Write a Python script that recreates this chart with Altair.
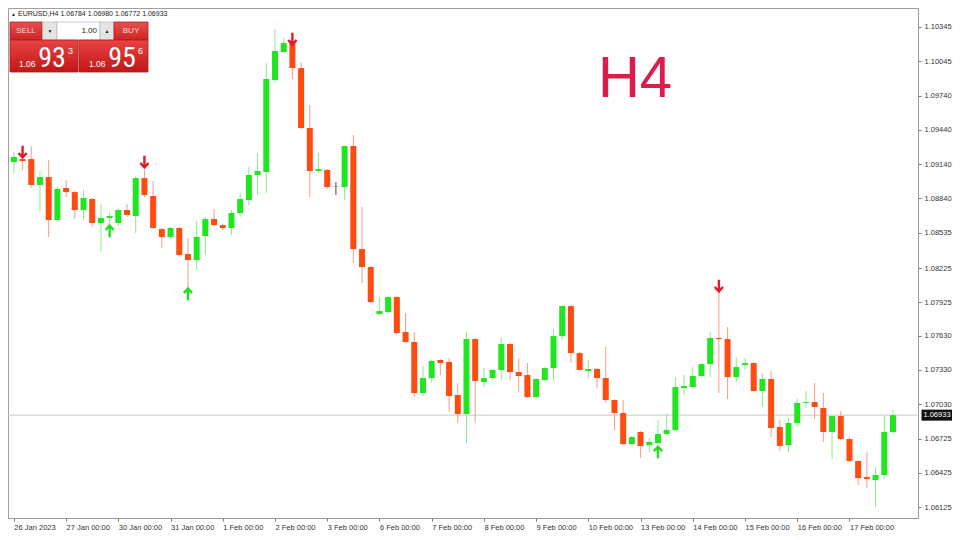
import altair as alt
import pandas as pd

# ---------------- data ----------------
opens = [1.09158, 1.09184, 1.09184, 1.08956, 1.09026, 1.08648, 1.08930, 1.08894, 1.08736, 1.08833,
         1.08622, 1.08666, 1.08622, 1.08736, 1.08683, 1.09017, 1.08859, 1.08569, 1.08499, 1.08578,
         1.08349, 1.08297, 1.08508, 1.08657, 1.08604, 1.08578, 1.08710, 1.08824, 1.09044, 1.09070,
         1.09879, 1.10125, 1.10213, 1.09984, 1.09457, 1.09079, 1.09088, 1.08947, 1.08938, 1.09299,
         1.08393, 1.08235, 1.07822, 1.07840, 1.07971, 1.07664, 1.07576, 1.07128, 1.07259, 1.07418,
         1.07400, 1.07110, 1.06943, 1.07602, 1.07224, 1.07259, 1.07330, 1.07558, 1.07312, 1.07286,
         1.07092, 1.07242, 1.07347, 1.07628, 1.07892, 1.07479, 1.07321, 1.07339, 1.07259, 1.07066,
         1.06952, 1.06679, 1.06785, 1.06670, 1.06688, 1.06767, 1.06802, 1.07171, 1.07180, 1.07277,
         1.07382, 1.07611, 1.07602, 1.07268, 1.07374, 1.07391, 1.07145, 1.07251, 1.06829, 1.06670,
         1.06864, 1.07040, 1.07048, 1.06996, 1.06785, 1.06925, 1.06723, 1.06530, 1.06389, 1.06363,
         1.06407, 1.06784]
highs = [1.09246, 1.09202, 1.09299, 1.09079, 1.09176, 1.08938, 1.09000, 1.08903, 1.08912, 1.08842,
         1.08789, 1.08719, 1.08754, 1.08789, 1.09035, 1.09088, 1.08991, 1.08578, 1.08587, 1.08587,
         1.08490, 1.08639, 1.08675, 1.08745, 1.08613, 1.08736, 1.08886, 1.09114, 1.09237, 1.10028,
         1.10327, 1.10248, 1.10292, 1.10037, 1.09659, 1.09237, 1.09097, 1.08982, 1.09305, 1.09395,
         1.08763, 1.08244, 1.07971, 1.07980, 1.07980, 1.07831, 1.07664, 1.07365, 1.07418, 1.07427,
         1.07435, 1.07215, 1.07664, 1.07611, 1.07347, 1.07339, 1.07611, 1.07567, 1.07435, 1.07391,
         1.07259, 1.07356, 1.07690, 1.07898, 1.07901, 1.07488, 1.07418, 1.07347, 1.07532, 1.07075,
         1.07066, 1.06750, 1.06794, 1.06732, 1.06890, 1.06952, 1.07268, 1.07286, 1.07356, 1.07391,
         1.07664, 1.08033, 1.07708, 1.07444, 1.07435, 1.07400, 1.07303, 1.07321, 1.06890, 1.06908,
         1.07075, 1.07145, 1.07215, 1.07128, 1.06930, 1.06969, 1.06741, 1.06535, 1.06609, 1.06477,
         1.06925, 1.06980]
lows = [1.09061, 1.09088, 1.08930, 1.08727, 1.08499, 1.08631, 1.08850, 1.08657, 1.08657, 1.08587,
        1.08367, 1.08604, 1.08596, 1.08675, 1.08534, 1.08850, 1.08569, 1.08402, 1.08481, 1.08332,
        1.08033, 1.08209, 1.08341, 1.08596, 1.08560, 1.08516, 1.08675, 1.08780, 1.08868, 1.08886,
        1.09852, 1.10120, 1.09888, 1.09448, 1.08850, 1.09061, 1.08921, 1.08868, 1.08824, 1.08270,
        1.08094, 1.07919, 1.07813, 1.07831, 1.07646, 1.07567, 1.07092, 1.07101, 1.07215, 1.07286,
        1.06961, 1.06864, 1.06688, 1.06873, 1.07180, 1.07242, 1.07242, 1.07242, 1.07136, 1.07084,
        1.07084, 1.07233, 1.07233, 1.07593, 1.07391, 1.07321, 1.07259, 1.07171, 1.07040, 1.06802,
        1.06670, 1.06670, 1.06556, 1.06609, 1.06679, 1.06758, 1.06794, 1.07110, 1.07171, 1.07268,
        1.07268, 1.07128, 1.07075, 1.07224, 1.07330, 1.07136, 1.07005, 1.06741, 1.06618, 1.06609,
        1.06829, 1.06996, 1.06899, 1.06697, 1.06547, 1.06714, 1.06521, 1.06319, 1.06292, 1.06126,
        1.06372, 1.06772]
closes = [1.09202, 1.09167, 1.08956, 1.09026, 1.08648, 1.08921, 1.08894, 1.08736, 1.08842, 1.08622,
          1.08666, 1.08683, 1.08736, 1.08692, 1.09017, 1.08868, 1.08578, 1.08499, 1.08578, 1.08341,
          1.08297, 1.08499, 1.08657, 1.08604, 1.08578, 1.08710, 1.08833, 1.09044, 1.09079, 1.09888,
          1.10134, 1.10204, 1.09984, 1.09457, 1.09079, 1.09097, 1.08938, 1.08945, 1.09299, 1.08393,
          1.08235, 1.07927, 1.07848, 1.07971, 1.07655, 1.07576, 1.07128, 1.07259, 1.07409, 1.07391,
          1.07101, 1.06943, 1.07602, 1.07233, 1.07259, 1.07330, 1.07558, 1.07312, 1.07277, 1.07092,
          1.07251, 1.07347, 1.07628, 1.07892, 1.07479, 1.07330, 1.07339, 1.07259, 1.07066, 1.06952,
          1.06679, 1.06741, 1.06662, 1.06697, 1.06767, 1.06802, 1.07180, 1.07189, 1.07277, 1.07382,
          1.07611, 1.07602, 1.07268, 1.07356, 1.07391, 1.07145, 1.07251, 1.06820, 1.06662, 1.06864,
          1.07040, 1.07048, 1.07005, 1.06785, 1.06925, 1.06723, 1.06530, 1.06380, 1.06372, 1.06407,
          1.06785, 1.06933]

day_labels = ["26 Jan 2023", "27 Jan 00:00", "30 Jan 00:00", "31 Jan 00:00", "1 Feb 00:00",
              "2 Feb 00:00", "3 Feb 00:00", "6 Feb 00:00", "7 Feb 00:00", "8 Feb 00:00",
              "9 Feb 00:00", "10 Feb 00:00", "13 Feb 00:00", "14 Feb 00:00", "15 Feb 00:00",
              "16 Feb 00:00", "17 Feb 00:00"]
bars_per_day = 6

price_ticks = [1.10345, 1.10045, 1.09740, 1.09440, 1.09140, 1.08840, 1.08535, 1.08225,
               1.07925, 1.07630, 1.07330, 1.07030, 1.06725, 1.06425, 1.06125]

sell_idx = [1, 15, 32, 81]
sell_price = [1.09246, 1.09158, 1.10239, 1.08068]
buy_idx = [11, 20, 74]
buy_price = [1.08552, 1.07998, 1.06609]

last_price = 1.06933
header_text = "EURUSD,H4  1.06784 1.06980 1.06772 1.06933"

# ---------------- tables ----------------
n = len(opens)
def direction(o, c):
    if abs(c - o) < 0.00003:
        return "doji"
    return "up" if c > o else "down"

df = pd.DataFrame({"i": list(range(n)), "o": opens, "h": highs, "l": lows, "c": closes})
df["dir"] = [direction(o, c) for o, c in zip(opens, closes)]
sell_df = pd.DataFrame({"i": sell_idx, "p": sell_price})
buy_df = pd.DataFrame({"i": buy_idx, "p": buy_price})
last_df = pd.DataFrame({"p": [last_price], "t": [f"{last_price:.5f}"]})
one = pd.DataFrame({"k": [0]})

FONT = "Liberation Sans"
xs = alt.Scale(domain=[-0.1, 103.3], nice=False, zero=False)
ys = alt.Scale(domain=[1.06029, 1.10512], nice=False, zero=False)

label_expr = "[" + ",".join(f"'{s}'" for s in day_labels) + f"][round(datum.value/{bars_per_day})]"
x_axis = alt.Axis(values=list(range(0, bars_per_day * len(day_labels), bars_per_day)),
                  labelExpr=label_expr, title=None, grid=False, orient="bottom",
                  labelAlign="left", labelFontSize=7.5, labelFont=FONT, labelColor="#333",
                  tickSize=3, tickColor="#777", domainColor="#999", labelPadding=2,
                  labelOverlap=False, labelFlush=False)
y_axis = alt.Axis(values=price_ticks, format=".5f", title=None, grid=False, orient="right",
                  labelFontSize=7.5, labelFont=FONT, labelColor="#333", tickSize=3,
                  tickColor="#777", domainColor="#999", labelPadding=3,
                  labelOverlap=False, labelFlush=False)

X = alt.X("i:Q", scale=xs, axis=x_axis)

body_colors = alt.Scale(domain=["up", "down", "doji"], range=["#1fe61f", "#ff4a10", "#444444"])
wick_colors = alt.Scale(domain=["up", "down", "doji"], range=["#86ee86", "#f89c84", "#444444"])

base = alt.Chart(df)
price_line = alt.Chart(last_df).mark_rule(color="#c9c9c9", strokeWidth=1).encode(
    y=alt.Y("p:Q", scale=ys, axis=y_axis))
wicks = base.mark_rule(strokeWidth=1, clip=True).encode(
    x=X, y=alt.Y("l:Q", scale=ys, axis=y_axis), y2="h:Q",
    color=alt.Color("dir:N", scale=wick_colors, legend=None))
bodies = base.mark_bar(size=6, clip=True, minBandSize=1.5, opacity=1).encode(
    x=X, y=alt.Y("o:Q", scale=ys, axis=y_axis), y2="c:Q",
    fill=alt.Fill("dir:N", scale=body_colors, legend=None))

down_arrow = "M0,-1L0,0.8M-0.65,0.15L0,0.85L0.65,0.15"
up_arrow = "M0,1L0,-0.8M-0.65,-0.15L0,-0.85L0.65,-0.15"
sells = alt.Chart(sell_df).mark_point(shape=down_arrow, filled=False, strokeWidth=2.4,
                                      size=160, color="#e8182a", opacity=1).encode(
    x=X, y=alt.Y("p:Q", scale=ys, axis=y_axis))
buys = alt.Chart(buy_df).mark_point(shape=up_arrow, filled=False, strokeWidth=2.4,
                                    size=160, color="#22dd22", opacity=1).encode(
    x=X, y=alt.Y("p:Q", scale=ys, axis=y_axis))

# price tag on the axis
tag = alt.Chart(last_df).mark_tick(orient="horizontal", size=31, thickness=11, color="#111111",
                                   opacity=1).encode(
    x=alt.value(929), y=alt.Y("p:Q", scale=ys, axis=y_axis))
tag_text = alt.Chart(last_df).mark_text(color="white", fontSize=7.5, font=FONT,
                                        align="center", baseline="middle").encode(
    x=alt.value(929), y=alt.Y("p:Q", scale=ys, axis=y_axis), text="t:N")

# timeframe annotation
h4 = alt.Chart(one).mark_text(text="H4", fontSize=58, font=FONT, color="#dc1c4b",
                              align="center", baseline="alphabetic").encode(
    x=alt.value(627), y=alt.value(89))

# one-click trading panel
def rect(x, x2, y, y2, fill, stroke="#b21a1a"):
    return alt.Chart(one).mark_rect(color=fill, stroke=stroke, strokeWidth=0.8).encode(
        x=alt.value(x), x2=alt.value(x2), y=alt.value(y), y2=alt.value(y2))

def txt(x, y, s, size, color, align="left", baseline="middle", font=FONT, weight="normal"):
    return alt.Chart(one).mark_text(text=s, fontSize=size, color=color, align=align,
                                    baseline=baseline, font=font, fontWeight=weight).encode(
        x=alt.value(x), y=alt.value(y))

grad = alt.LinearGradient(gradient="linear",
                          stops=[alt.GradientStop(color="#e84444", offset=0),
                                 alt.GradientStop(color="#c01616", offset=1)],
                          x1=0, x2=0, y1=0, y2=1)
grad_btn = alt.LinearGradient(gradient="linear",
                              stops=[alt.GradientStop(color="#e85050", offset=0),
                                     alt.GradientStop(color="#cc2424", offset=1)],
                              x1=0, x2=0, y1=0, y2=1)

NARROW = "Liberation Sans Narrow, Roboto Condensed, Liberation Sans"
PX, PY = 2, 14
panel = [
    txt(PX + 1, 6, "▲", 5, "#333"),
    txt(PX + 8, 6, header_text, 7, "#222"),
    rect(PX, PX + 32, PY, PY + 18, grad_btn),
    rect(PX + 33, PX + 47, PY, PY + 18, "#e4e4e4", "#bdbdbd"),
    rect(PX + 47, PX + 90, PY, PY + 18, "#ffffff", "#bdbdbd"),
    rect(PX + 90, PX + 104, PY, PY + 18, "#e4e4e4", "#bdbdbd"),
    rect(PX + 104, PX + 138, PY, PY + 18, grad_btn),
    rect(PX, PX + 68, PY + 18, PY + 50, grad),
    rect(PX + 69, PX + 138, PY + 18, PY + 50, grad),
    txt(PX + 16, PY + 9, "SELL", 8, "#ffd9d9", "center"),
    txt(PX + 40, PY + 9, "▼", 5, "#222", "center"),
    txt(PX + 87, PY + 9, "1.00", 8, "#222", "right"),
    txt(PX + 97, PY + 9, "▲", 5, "#222", "center"),
    txt(PX + 121, PY + 9, "BUY", 8, "#ffd9d9", "center"),
    txt(PX + 9, PY + 45, "1.06", 8.5, "white", "left", "alphabetic"),
    txt(PX + 42, PY + 45, "93", 28, "white", "center", "alphabetic", NARROW),
    txt(PX + 58, PY + 32, "3", 9, "white", "left", "alphabetic"),
    txt(PX + 79, PY + 45, "1.06", 8.5, "white", "left", "alphabetic"),
    txt(PX + 112, PY + 45, "95", 28, "white", "center", "alphabetic", NARROW),
    txt(PX + 128, PY + 32, "6", 9, "white", "left", "alphabetic"),
]

chart = alt.layer(price_line, wicks, bodies, sells, buys, tag, tag_text, h4, *panel).resolve_scale(
    color="independent", fill="independent"
).properties(
    width=910, height=510,
    autosize=alt.AutoSizeParams(type="none"),
    padding={"left": 0, "top": 0, "right": 34, "bottom": 14},
    background="white",
).configure_view(stroke="#a0a0a0", strokeWidth=1)

chart.save("out.html", embed_options={"renderer": "svg", "actions": False})
